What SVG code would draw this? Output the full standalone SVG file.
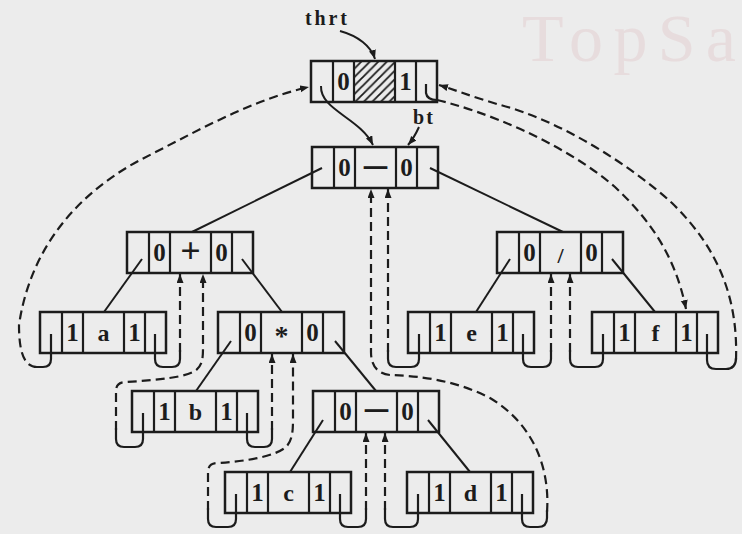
<svg xmlns="http://www.w3.org/2000/svg" width="742" height="534" viewBox="0 0 742 534">
<style>
.box{fill:none;stroke:#1c1c1c;stroke-width:2.5}
.div{fill:none;stroke:#1c1c1c;stroke-width:2.2}
text{font-family:"Liberation Serif",serif;fill:#1c1c1c;text-anchor:middle}
.tag{font-size:25px;font-weight:bold}
.dat{font-size:24px;font-weight:bold}
.dash{font-size:22px;font-weight:bold;stroke:#1c1c1c;stroke-width:1.4}
.lbl{font-size:20px;font-weight:bold}
.edge{fill:none;stroke:#1c1c1c;stroke-width:2}
.hook{fill:none;stroke:#1c1c1c;stroke-width:2.2}
.thr{fill:none;stroke:#1c1c1c;stroke-width:2.2;stroke-dasharray:9 5}
.arr{marker-end:url(#ah)}
.wm{font-size:68px;fill:#e7dcdd;text-anchor:start}
</style>
<defs>
<marker id="ah" markerUnits="userSpaceOnUse" markerWidth="10" markerHeight="8" refX="9" refY="3.5" orient="auto">
<path d="M0,0 L9,3.5 L0,7 z" fill="#1c1c1c"/>
</marker>
<pattern id="hatch" patternUnits="userSpaceOnUse" width="8.5" height="8.5">
<path d="M-1,1 L1,-1 M0,8.5 L8.5,0 M7.5,9.5 L9.5,7.5" stroke="#1c1c1c" stroke-width="1.8"/>
</pattern>
</defs>
<rect width="742" height="534" fill="#ececec"/>
<text class="wm" x="522" y="61" textLength="214" lengthAdjust="spacing">TopSa</text>

<g id="labels">
<text class="lbl" x="326" y="25" textLength="42">thrt</text>
<text class="lbl" x="423" y="124" textLength="20">bt</text>
</g>

<g id="connectors">
<path class="edge arr" d="M340,31 C358,36 371,46 375,59"/>
<path class="edge arr" d="M419,127 Q414,138 408,145"/>
<path class="edge arr" d="M321,86 C320,110 360,118 373,145"/>
<path class="hook" d="M426,84 V93 Q427,100 437,100"/>
<path class="thr arr" d="M437,100 C480,110 560,140 615,187 C650,220 675,255 686,309"/>
<path class="edge" d="M322,168 L192,232"/>
<path class="edge" d="M430,168 L563,232"/>
<path class="edge" d="M142,259 L104,312"/>
<path class="edge" d="M242,259 L282,312"/>
<path class="edge" d="M510,259 L476,312"/>
<path class="edge" d="M612,259 L655,312"/>
<path class="edge" d="M231,341 L196,391"/>
<path class="edge" d="M335,341 L376,391"/>
<path class="edge" d="M323,420 L290,472"/>
<path class="edge" d="M428,420 L470,472"/>
<path class="hook" d="M51,334 V359 Q51,367 43,367 H37"/>
<path class="thr arr" d="M37,367 C24,367 19,352 19,325 C30,250 75,195 140,160 C190,135 250,100 309,87"/>
<path class="hook" d="M155,334 V359 Q155,367 163,367 H172 Q180,367 180,359 V350"/>
<path class="thr arr" d="M180,352 V274"/>
<path class="hook" d="M143,413 V439 Q143,447 135,447 H124 Q116,447 116,439 V428"/>
<path class="thr arr" d="M116,430 V391 Q116,382 126,382 C160,380 185,377 195,371 C202,366 203,360 203,348 V274"/>
<path class="hook" d="M247,413 V439 Q247,447 255,447 H264 Q272,447 272,439 V428"/>
<path class="thr arr" d="M272,430 V354"/>
<path class="hook" d="M236,494 V519 Q236,527 228,527 H216 Q208,527 208,519 V508"/>
<path class="thr arr" d="M208,510 V472 Q208,463 218,463 C250,461 275,456 286,447 C292,441 293,432 293,420 V354"/>
<path class="hook" d="M340,494 V519 Q340,527 348,527 H358 Q366,527 366,519 V508"/>
<path class="thr arr" d="M366,510 V433"/>
<path class="hook" d="M418,494 V519 Q418,527 410,527 H393 Q385,527 385,519 V508"/>
<path class="thr arr" d="M385,510 V433"/>
<path class="hook" d="M522,494 V519 Q522,527 530,527 H538 Q547,527 547,518 V510"/>
<path class="thr arr" d="M547,512 C550,470 535,425 490,398 C455,380 420,376 390,375 C378,374 371,366 371,352 V189"/>
<path class="hook" d="M419,334 V359 Q419,367 411,367 H396 Q388,367 388,359 V350"/>
<path class="thr arr" d="M388,352 V189"/>
<path class="hook" d="M523,334 V359 Q523,367 531,367 H543 Q551,367 551,359 V350"/>
<path class="thr arr" d="M551,352 V274"/>
<path class="hook" d="M603,334 V359 Q603,367 595,367 H578 Q570,367 570,359 V350"/>
<path class="thr arr" d="M570,352 V274"/>
<path class="hook" d="M707,334 V360 Q707,369 716,369 H726 Q736,369 736,358"/>
<path class="thr arr" d="M736,360 C738,300 720,250 672,203 C630,165 560,120 497,104 C470,96 455,90 439,85"/>
</g>

<g id="n-head" transform="translate(311,61)">
<rect x="43" y="0" width="41" height="41" fill="url(#hatch)"/>
<rect class="box" width="126" height="41"/>
<path class="div" d="M22,0V41M43,0V41M84,0V41M105,0V41"/>
<text class="tag" x="32.5" y="29">0</text>
<text class="tag" x="94.5" y="29">1</text>
</g>

<g id="n-root" transform="translate(312,147)">
<rect class="box" width="126" height="41"/>
<path class="div" d="M22,0V41M43,0V41M84,0V41M105,0V41"/>
<text class="tag" x="32.5" y="29">0</text>
<text class="dash" x="63.5" y="26">—</text>
<text class="tag" x="94.5" y="29">0</text>
</g>

<g id="n-plus" transform="translate(127,232)">
<rect class="box" width="126" height="41"/>
<path class="div" d="M22,0V41M43,0V41M84,0V41M105,0V41"/>
<text class="tag" x="32.5" y="29">0</text>
<text class="dat" x="63.5" y="31" style="font-size:36px">+</text>
<text class="tag" x="94.5" y="29">0</text>
</g>

<g id="n-div" transform="translate(497,232)">
<rect class="box" width="126" height="41"/>
<path class="div" d="M22,0V41M43,0V41M84,0V41M105,0V41"/>
<text class="tag" x="32.5" y="29">0</text>
<text class="dat" x="63.5" y="31" style="font-size:22px">/</text>
<text class="tag" x="94.5" y="29">0</text>
</g>

<g id="n-a" transform="translate(40,312)">
<rect class="box" width="126" height="41"/>
<path class="div" d="M22,0V41M43,0V41M84,0V41M105,0V41"/>
<text class="tag" x="32.5" y="29">1</text>
<text class="dat" x="63.5" y="29">a</text>
<text class="tag" x="94.5" y="29">1</text>
</g>

<g id="n-mul" transform="translate(218,312)">
<rect class="box" width="126" height="41"/>
<path class="div" d="M22,0V41M43,0V41M84,0V41M105,0V41"/>
<text class="tag" x="32.5" y="29">0</text>
<text class="dat" x="63.5" y="33" style="font-size:28px">*</text>
<text class="tag" x="94.5" y="29">0</text>
</g>

<g id="n-e" transform="translate(408,312)">
<rect class="box" width="126" height="41"/>
<path class="div" d="M22,0V41M43,0V41M84,0V41M105,0V41"/>
<text class="tag" x="32.5" y="29">1</text>
<text class="dat" x="63.5" y="29">e</text>
<text class="tag" x="94.5" y="29">1</text>
</g>

<g id="n-f" transform="translate(592,312)">
<rect class="box" width="126" height="41"/>
<path class="div" d="M22,0V41M43,0V41M84,0V41M105,0V41"/>
<text class="tag" x="32.5" y="29">1</text>
<text class="dat" x="63.5" y="29">f</text>
<text class="tag" x="94.5" y="29">1</text>
</g>

<g id="n-b" transform="translate(132,391)">
<rect class="box" width="126" height="41"/>
<path class="div" d="M22,0V41M43,0V41M84,0V41M105,0V41"/>
<text class="tag" x="32.5" y="29">1</text>
<text class="dat" x="63.5" y="29">b</text>
<text class="tag" x="94.5" y="29">1</text>
</g>

<g id="n-sub" transform="translate(313,391)">
<rect class="box" width="126" height="41"/>
<path class="div" d="M22,0V41M43,0V41M84,0V41M105,0V41"/>
<text class="tag" x="32.5" y="29">0</text>
<text class="dash" x="63.5" y="25">—</text>
<text class="tag" x="94.5" y="29">0</text>
</g>

<g id="n-c" transform="translate(225,472)">
<rect class="box" width="126" height="41"/>
<path class="div" d="M22,0V41M43,0V41M84,0V41M105,0V41"/>
<text class="tag" x="32.5" y="29">1</text>
<text class="dat" x="63.5" y="29">c</text>
<text class="tag" x="94.5" y="29">1</text>
</g>

<g id="n-d" transform="translate(407,472)">
<rect class="box" width="126" height="41"/>
<path class="div" d="M22,0V41M43,0V41M84,0V41M105,0V41"/>
<text class="tag" x="32.5" y="29">1</text>
<text class="dat" x="63.5" y="29">d</text>
<text class="tag" x="94.5" y="29">1</text>
</g>
</svg>
